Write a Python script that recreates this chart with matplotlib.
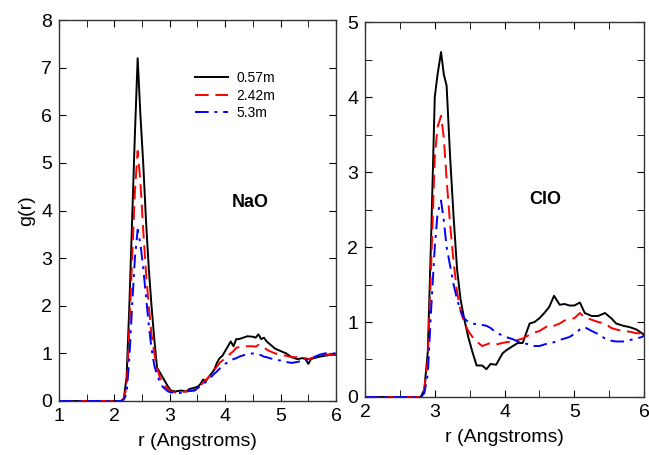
import matplotlib
matplotlib.use("Agg")
import matplotlib.pyplot as plt
from matplotlib.ticker import MultipleLocator

plt.rcParams['font.family'] = ['Liberation Sans', 'DejaVu Sans']

# NaO
r_na = [1.0, 2.12, 2.17, 2.22, 2.27, 2.32, 2.37, 2.42, 2.47, 2.52, 2.57, 2.62, 2.67, 2.72, 2.77,
        2.82, 2.87, 2.92, 2.97, 3.02, 3.1, 3.2, 3.3, 3.35, 3.45, 3.5, 3.55, 3.6, 3.65, 3.7, 3.8,
        3.85, 3.9, 3.95, 4.0, 4.1, 4.15, 4.2, 4.25, 4.3, 4.4, 4.5, 4.55, 4.6, 4.65, 4.7, 4.75,
        4.8, 4.9, 5.0, 5.1, 5.2, 5.3, 5.4, 5.45, 5.5, 5.55, 5.6, 5.7, 5.8, 5.9, 6.0]
na_057 = [0, 0, 0.05, 0.5, 2.0, 3.8, 5.6, 7.2, 6.0, 5.0, 3.8, 2.8, 2.0, 1.3, 0.7,
          0.6, 0.5, 0.4, 0.3, 0.22, 0.2, 0.22, 0.2, 0.25, 0.28, 0.3, 0.35, 0.45, 0.42, 0.5, 0.65,
          0.8, 0.9, 0.95, 1.05, 1.25, 1.15, 1.3, 1.3, 1.32, 1.36, 1.35, 1.33, 1.4, 1.3, 1.33, 1.25,
          1.2, 1.1, 1.05, 1.0, 0.92, 0.88, 0.9, 0.88, 0.78, 0.88, 0.9, 0.93, 0.95, 0.97, 0.97]
na_242 = [0, 0, 0.05, 0.3, 1.5, 3.0, 4.4, 5.25, 4.6, 3.6, 2.7, 2.0, 1.4, 1.0, 0.7,
          0.5, 0.4, 0.3, 0.25, 0.2, 0.18, 0.18, 0.2, 0.21, 0.23, 0.28, 0.32, 0.38, 0.44, 0.5, 0.65,
          0.72, 0.8, 0.85, 0.9, 1.0, 1.05, 1.12, 1.13, 1.15, 1.15, 1.15, 1.14, 1.18, 1.15, 1.12, 1.08,
          1.05, 1.0, 0.97, 0.95, 0.92, 0.92, 0.9, 0.9, 0.88, 0.9, 0.92, 0.95, 0.97, 0.98, 0.98]
na_53 = [0, 0, 0.03, 0.15, 0.9, 2.0, 3.0, 3.6, 3.3, 2.8, 2.2, 1.6, 1.1, 0.75, 0.55,
         0.4, 0.3, 0.25, 0.2, 0.18, 0.17, 0.17, 0.2, 0.21, 0.22, 0.27, 0.3, 0.35, 0.4, 0.45, 0.57,
         0.62, 0.68, 0.73, 0.78, 0.85, 0.88, 0.9, 0.93, 0.95, 0.98, 1.0, 0.99, 0.98, 0.96, 0.93, 0.92,
         0.9, 0.87, 0.85, 0.82, 0.8, 0.82, 0.85, 0.86, 0.88, 0.9, 0.92, 0.97, 1.0, 1.0, 1.0]

# ClO
r_cl = [2.0, 2.8, 2.85, 2.9, 2.95, 3.0, 3.04, 3.09, 3.13, 3.17, 3.22, 3.27, 3.32, 3.37, 3.42,
        3.48, 3.54, 3.6, 3.68, 3.74, 3.8, 3.88, 3.97, 4.02, 4.12, 4.19, 4.26, 4.36, 4.43, 4.5,
        4.57, 4.64, 4.71, 4.79, 4.86, 4.93, 5.0, 5.08, 5.15, 5.25, 5.34, 5.44, 5.53, 5.6, 5.7,
        5.8, 5.89, 5.97, 6.0]
cl_057 = [0, 0, 0.1, 0.6, 2.2, 4.0, 4.3, 4.6, 4.3, 4.15, 3.2, 2.4, 1.7, 1.3, 1.05,
          0.8, 0.6, 0.42, 0.42, 0.37, 0.44, 0.43, 0.58, 0.62, 0.68, 0.72, 0.72, 0.98, 1.0, 1.05,
          1.12, 1.2, 1.35, 1.23, 1.24, 1.22, 1.22, 1.26, 1.12, 1.08, 1.08, 1.12, 1.05, 0.98, 0.95,
          0.93, 0.9, 0.85, 0.83]
cl_242 = [0, 0, 0.1, 0.5, 1.8, 3.2, 3.6, 3.75, 3.45, 2.9, 2.3, 1.8, 1.4, 1.15, 1.0,
          0.88, 0.8, 0.74, 0.68, 0.7, 0.72, 0.7, 0.72, 0.73, 0.74, 0.76, 0.78, 0.83, 0.86, 0.88,
          0.92, 0.96, 0.95, 0.98, 1.02, 1.04, 1.05, 1.12, 1.06, 1.03, 1.0, 0.98, 0.92, 0.9, 0.88,
          0.87, 0.85, 0.85, 0.9]
cl_53 = [0, 0, 0.05, 0.3, 1.2, 2.0, 2.45, 2.62, 2.35, 2.0, 1.75, 1.5, 1.3, 1.15, 1.05,
         1.0, 0.98, 0.97, 0.96, 0.95, 0.92, 0.86, 0.82, 0.8, 0.77, 0.74, 0.72, 0.7, 0.68, 0.68,
         0.7, 0.72, 0.73, 0.76, 0.78, 0.8, 0.84, 0.9, 0.93, 0.88, 0.84, 0.78, 0.75, 0.74, 0.74,
         0.76, 0.78, 0.8, 0.82]

labels = ['0.57m', '2.42m', '5.3m']
styles = [dict(color='black', linestyle='-'),
          dict(color='red', linestyle=(0, (7, 3.5))),
          dict(color='blue', linestyle=(0, (7, 3, 1.5, 3)))]

fig = plt.figure(figsize=(6.49, 4.55), dpi=100)
ax1 = fig.add_axes([0.0909, 0.1187, 0.4268, 0.837])
ax2 = fig.add_axes([0.5624, 0.1275, 0.43, 0.824])

for y, lab, st in zip([na_057, na_242, na_53], labels, styles):
    ax1.plot(r_na, y, lw=1.4, label=lab, **st)
for y, st in zip([cl_057, cl_242, cl_53], styles):
    ax2.plot(r_cl, y, lw=1.4, **st)

ax1.set_xlim(1, 6)
ax1.set_ylim(0, 8)
ax1.xaxis.set_major_locator(MultipleLocator(1))
ax1.xaxis.set_minor_locator(MultipleLocator(0.5))
ax1.yaxis.set_major_locator(MultipleLocator(1))

ax2.set_xlim(2, 6)
ax2.set_ylim(0, 5)
ax2.xaxis.set_major_locator(MultipleLocator(1))
ax2.xaxis.set_minor_locator(MultipleLocator(0.5))
ax2.yaxis.set_major_locator(MultipleLocator(1))
ax2.yaxis.set_minor_locator(MultipleLocator(0.5))

for ax in (ax1, ax2):
    ax.tick_params(which='both', direction='in', top=True, right=True, labelsize=14, pad=5)
    ax.tick_params(which='major', length=5)
    ax.tick_params(which='minor', length=5)
    ax.set_xlabel('r (Angstroms)', fontsize=14, labelpad=6)
    for s in ax.spines.values():
        s.set_linewidth(1.0)
        s.set_color('#333333')

ax1.set_ylabel('g(r)', fontsize=14, labelpad=4)

ax1.text(4.12, 4.18, 'NaO', fontsize=13, fontweight='bold', va='center')
ax2.text(4.36, 2.63, 'ClO', fontsize=13, fontweight='bold', va='center')

ax1.legend(loc='upper left', bbox_to_anchor=(0.49, 0.866), frameon=False, fontsize=10,
           handlelength=2.4, handletextpad=0.6, labelspacing=0.25,
           borderpad=0, borderaxespad=0)

fig.savefig('out.png', dpi=100)
